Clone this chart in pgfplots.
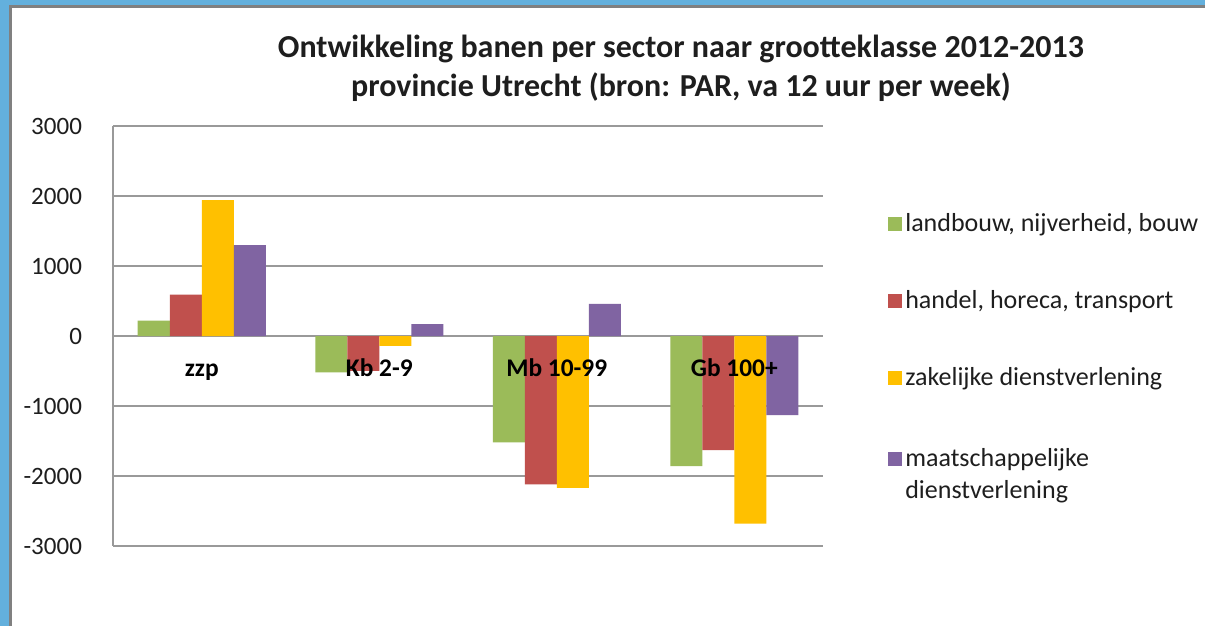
\documentclass[border=0pt]{standalone}
\usepackage{pgfplots}
\pgfplotsset{compat=1.18}
\usepackage{fontspec}
\setmainfont{Carlito}
\definecolor{cgreen}{HTML}{9BBB59}
\definecolor{cred}{HTML}{C0504D}
\definecolor{cyellow}{HTML}{FFC000}
\definecolor{cpurple}{HTML}{8064A2}
\definecolor{bblue}{RGB}{99,176,221}
\definecolor{bgray}{RGB}{128,128,128}
\definecolor{txt}{RGB}{30,30,30}
\begin{document}
\begin{tikzpicture}
\useasboundingbox (0,0) rectangle (602.5pt,313pt);
\clip (0,0) rectangle (602.5pt,313pt);
\fill[white] (0,0) rectangle (602.5pt,313pt);
\fill[bblue] (0,0) rectangle (4.5pt,313pt);
\fill[bblue] (0,310.5pt) rectangle (602.5pt,313pt);
\fill[bgray] (4.5pt,0) rectangle (6pt,310.5pt);
\fill[bgray] (4.5pt,309pt) rectangle (602.5pt,310.5pt);
\begin{axis}[
  at={(56.5pt,40pt)}, anchor=south west,
  width=355pt, height=210pt, scale only axis,
  xmin=-0.5, xmax=3.5, ymin=-3000, ymax=3000,
  ybar=0pt, bar width=16pt,
  axis x line=none,
  axis y line*=left,
  y axis line style={draw=gray!80, line width=0.6pt},
  ytick={-3000,-2000,-1000,0,1000,2000,3000},
  yticklabels={-3000,-2000,-1000,0,1000,2000,3000},
  major tick length=0pt,
  yticklabel style={font=\fontsize{12.5}{14}\selectfont, text=txt, xshift=-12pt},
  ymajorgrids, grid style={gray!80, line width=0.6pt},
  clip=false,
  legend style={at={(1.083,0.81)}, anchor=north west, draw=none, fill=none,
    font=\fontsize{13}{16}\selectfont, text=txt, row sep=25pt,
    nodes={anchor=base west, inner sep=1.5pt}},
  legend cell align=left,
  legend image code/.code={\fill[#1] (0pt,0.3pt) rectangle (7pt,7.3pt);},
]
\addplot[fill=cgreen, draw=none] coordinates {(0,220) (1,-520) (2,-1520) (3,-1860)};
\addplot[fill=cred, draw=none] coordinates {(0,590) (1,-500) (2,-2120) (3,-1630)};
\addplot[fill=cyellow, draw=none] coordinates {(0,1940) (1,-140) (2,-2170) (3,-2680)};
\addplot[fill=cpurple, draw=none] coordinates {(0,1300) (1,170) (2,460) (3,-1130)};
\legend{{landbouw, nijverheid, bouw}, {handel, horeca, transport}, {zakelijke dienstverlening}, {\begin{tabular}[t]{@{}l@{}}maatschappelijke\\[0pt] dienstverlening\end{tabular}}}
\foreach \i/\lab in {0/zzp,1/Kb 2-9,2/Mb 10-99,3/Gb 100+}{
  \edef\temp{\noexpand\node[anchor=base, font=\noexpand\bfseries\noexpand\fontsize{12.7}{14}\noexpand\selectfont, text=black] at (axis cs:\i,-580) {\lab};}
  \temp
}
\end{axis}
\node[align=center, font=\bfseries\fontsize{16}{19.5}\selectfont, text=txt] at (340.5pt,279pt) {Ontwikkeling banen per sector naar grootteklasse 2012-2013\\provincie Utrecht (bron: PAR, va 12 uur per week)};
\end{tikzpicture}
\end{document}
